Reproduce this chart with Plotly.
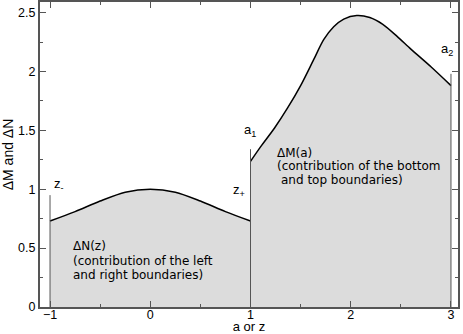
import plotly.graph_objects as go

# Delta N(z): left and right boundaries
z_vals = [-1.0, -0.75, -0.5, -0.25, 0.0, 0.25, 0.5, 0.75, 1.0]
dN_vals = [0.73, 0.81, 0.90, 0.975, 1.0, 0.975, 0.90, 0.81, 0.73]

# Delta M(a): bottom and top boundaries
a_vals = [1.0, 1.1, 1.24, 1.37, 1.5, 1.63, 1.73, 1.83, 1.93, 2.06, 2.19, 2.32, 2.46, 2.6, 2.8, 3.0]
dM_vals = [1.237, 1.36, 1.52, 1.69, 1.88, 2.10, 2.27, 2.38, 2.445, 2.475, 2.458, 2.40, 2.30, 2.19, 2.04, 1.88]

# vertical marker lines at z-, z+/a1, a2
edge_x = [-1.0, 1.0, 3.0]
edge_top = [0.95, 1.34, 1.98]

FONT = "Liberation Sans, Arial, sans-serif"
BLOCK_FONT = "DejaVu Sans, sans-serif"
AXIS_COL = "#555555"

fig = go.Figure()

for xs, ys in [(z_vals, dN_vals), (a_vals, dM_vals)]:
    fig.add_trace(go.Scatter(
        x=xs, y=ys, mode="lines", fill="tozeroy", fillcolor="#dcdcdc",
        line=dict(color="black", width=1.5, shape="spline", smoothing=0.8),
        hoverinfo="skip", showlegend=False))

for xe, ye in zip(edge_x, edge_top):
    fig.add_trace(go.Scatter(
        x=[xe, xe], y=[0, ye], mode="lines",
        line=dict(color="#555555", width=1),
        hoverinfo="skip", showlegend=False))

small = dict(family=FONT, size=13, color="black")
block = dict(family=BLOCK_FONT, size=12, color="black")
labels = [
    (-0.98, 1.04, "z<sub>-</sub>", small),
    (0.81, 0.99, "z<sub>+</sub>", small),
    (0.92, 1.50, "a<sub>1</sub>", small),
    (2.88, 2.19, "a<sub>2</sub>", small),
    # text blocks, one annotation per line to keep the tight spacing
    (-0.79, 0.515, "\u0394N(z)", block),
    (-0.79, 0.392, "(contribution of the left", block),
    (-0.79, 0.275, "and right boundaries)", block),
    (1.245, 1.31, "\u0394M(a)", block),
    (1.245, 1.195, "(contribution of the bottom", block),
    (1.285, 1.08, "and top boundaries)", block),
]
for x, y, t, f in labels:
    fig.add_annotation(x=x, y=y, text=t, showarrow=False, xanchor="left",
                       yanchor="middle", font=f)

axis_common = dict(
    showgrid=False, zeroline=False, showline=True, linecolor=AXIS_COL,
    linewidth=2, mirror="allticks", ticks="inside", ticklen=6, tickwidth=1,
    tickcolor=AXIS_COL, tickfont=dict(family=FONT, size=12.5, color="black"),
    automargin=False,
)

fig.update_xaxes(
    range=[-1.1, 3.07], tickvals=[-1, 0, 1, 2, 3], ticklabelstandoff=-5,
    minor=dict(ticks="inside", ticklen=3, dtick=0.5, tickcolor=AXIS_COL),
    title=dict(text="a or z", font=dict(family=FONT, size=13, color="black"), standoff=3),
    **axis_common)
fig.update_yaxes(
    range=[0, 2.59], tickvals=[0, 0.5, 1, 1.5, 2, 2.5], ticktext=["0", "0.5", "1", "1.5", "2", "2.5"],
    minor=dict(ticks="inside", ticklen=3, dtick=0.25, tickcolor=AXIS_COL),
    title=dict(text="\u0394M and \u0394N", font=dict(family=FONT, size=14, color="black"), standoff=2),
    **axis_common)

fig.update_layout(
    width=463, height=334, margin=dict(l=40, r=5, t=2, b=27),
    plot_bgcolor="white", paper_bgcolor="white",
)

fig.write_html("out.html", config={"displayModeBar": False},
               post_script="document.body.style.margin='0';")
